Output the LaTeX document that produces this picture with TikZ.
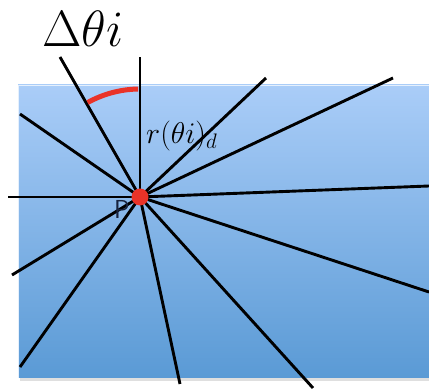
\RequirePackage{fix-cm}
\documentclass[tikz,border=0pt]{standalone}
\definecolor{boxtop}{HTML}{AACDF8}
\definecolor{boxbot}{HTML}{5A9AD5}
\definecolor{arcred}{HTML}{EA3328}
\definecolor{labelP}{HTML}{16223D}
\begin{document}
\begin{tikzpicture}[x=1pt,y=1pt,
    ray/.style={line width=2.9pt, black},
    arcmark/.style={line width=5pt, arcred}]
        \useasboundingbox (0,0) rectangle (429,390);

        % Fond (rectangle degrade)
        \fill[gray!25] (20,9) rectangle (429,303);
        \shade[top color=boxtop, bottom color=boxbot] (18,12) rectangle (429,305);
        \draw[white!70!boxtop, line width=0.8pt] (18,12) -- (18,305) -- (429,305);

        % Point P
        \coordinate (P) at (140,193);

        % Extremites des rayons
        \coordinate (e1) at (140,333);
        \coordinate (e2) at (60,333);
        \coordinate (e3) at (20,276);
        \coordinate (e4) at (8,193);
        \coordinate (e5) at (12,115);
        \coordinate (e6) at (20,23);
        \coordinate (e7) at (180,6);
        \coordinate (e8) at (313,2);
        \coordinate (e9) at (429,98);
        \coordinate (e10) at (429,204);
        \coordinate (e11) at (393,312);
        \coordinate (e12) at (266,312);

        % Rayons
        \foreach \e in {e1,e2,e3,e4,e5,e6,e7,e8,e9,e10,e11,e12}
            \draw[ray] (P) -- (\e);

        % Arc entre deux rayons
        \draw[arcmark] ([shift={(91:108)}]P) arc[start angle=91, end angle=119, radius=108];

        % Point rouge et etiquettes
        \fill[arcred] (P) circle (8.5);
        \node[text=labelP, font=\fontsize{26}{29}\selectfont\sffamily] (lblP) at (122,181) {P};
        \node[anchor=base, inner sep=0pt] (dtheta) at (83,343) {\fontsize{51}{60}\selectfont$\Delta\theta i$};
        \node[anchor=base west, inner sep=0pt] (rtheta) at (146,246) {\fontsize{30}{34}\selectfont$r(\theta i)_{d}$};
    \end{tikzpicture}
\end{document}
